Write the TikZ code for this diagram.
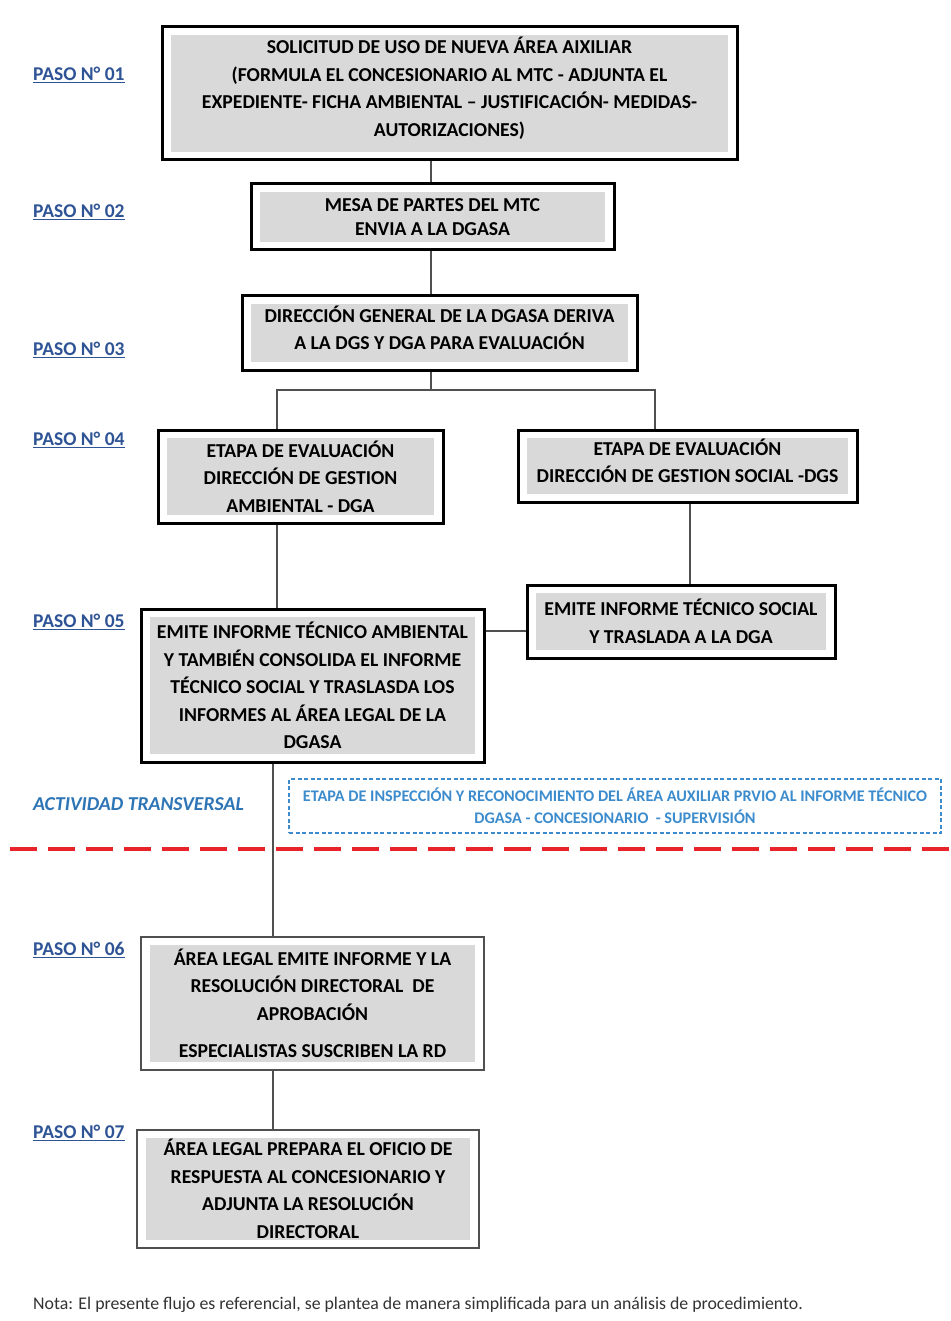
\documentclass[tikz,border=0pt]{standalone}
\usepackage{fontspec}
\setmainfont{Carlito}
\usetikzlibrary{calc}
\definecolor{boxgray}{RGB}{217,217,217}
\definecolor{pasoblue}{RGB}{47,84,150}
\definecolor{transblue}{RGB}{46,117,182}
\definecolor{lightblue}{RGB}{60,140,205}
\definecolor{linegray}{RGB}{80,80,80}
\definecolor{dashred}{RGB}{232,35,42}
\newcommand{\uptext}[2]{\raisebox{0pt}[0pt][0pt]{\parbox{#1}{\centering #2}}}
\tikzset{
  box/.style={draw=black, line width=3pt, fill=white, inner sep=0pt, align=center,
    font=\bfseries\fontsize{19.7}{27.5}\selectfont,
    path picture={\fill[boxgray] ([shift={(9pt,8pt)}]path picture bounding box.south west) rectangle ([shift={(-9pt,-8pt)}]path picture bounding box.north east);}},
  thinbox/.style={box, draw=linegray, line width=2pt},
  paso/.style={anchor=west, inner sep=0pt, text=pasoblue, font=\bfseries\fontsize{19.5}{22}\selectfont},
  conn/.style={draw=linegray, line width=1.2pt},
}
\begin{document}
\begin{tikzpicture}[x=1pt,y=-1pt]
\useasboundingbox[fill=white] (0,0) rectangle (950,1321);

% boxes (outer rectangles in pixel coordinates)
\node[box, minimum width=575, minimum height=133] (b1) at (449.5,93.5)
  {\uptext{555pt}{SOLICITUD DE USO DE NUEVA ÁREA AIXILIAR\\(FORMULA EL CONCESIONARIO AL MTC - ADJUNTA EL\\EXPEDIENTE- FICHA AMBIENTAL – JUSTIFICACIÓN- MEDIDAS-\\AUTORIZACIONES)}};
\node[box, minimum width=363, minimum height=66] (b2) at (432.5,217)
  {MESA DE PARTES DEL MTC\\[-3pt]ENVIA A LA DGASA};
\node[box, minimum width=395, minimum height=74] (b3) at (439.5,333)
  {\uptext{375pt}{DIRECCIÓN GENERAL DE LA DGASA DERIVA\\A LA DGS Y DGA PARA EVALUACIÓN}};
\node[box, minimum width=285, minimum height=93] (b4a) at (300.5,476.5)
  {ETAPA DE EVALUACIÓN\\DIRECCIÓN DE GESTION\\AMBIENTAL - DGA};
\node[box, minimum width=339, minimum height=72] (b4b) at (687.5,466)
  {\uptext{320pt}{ETAPA DE EVALUACIÓN\\DIRECCIÓN DE GESTION SOCIAL -DGS}};
\node[box, minimum width=308, minimum height=73] (b5b) at (681,621.5)
  {EMITE INFORME TÉCNICO SOCIAL\\Y TRASLADA A LA DGA};
\node[box, minimum width=343, minimum height=153] (b5a) at (312.5,685.5)
  {EMITE INFORME TÉCNICO AMBIENTAL\\Y TAMBIÉN CONSOLIDA EL INFORME\\TÉCNICO SOCIAL Y TRASLASDA LOS\\INFORMES AL ÁREA LEGAL DE LA\\DGASA};
\node[thinbox, minimum width=343, minimum height=133] (b6) at (312.5,1003.5)
  {ÁREA LEGAL EMITE INFORME Y LA\\RESOLUCIÓN DIRECTORAL\ \ DE\\APROBACIÓN\\[10pt]ESPECIALISTAS SUSCRIBEN LA RD};
\node[thinbox, minimum width=342, minimum height=118] (b7) at (308,1189)
  {ÁREA LEGAL PREPARA EL OFICIO DE\\RESPUESTA AL CONCESIONARIO Y\\ADJUNTA LA RESOLUCIÓN\\DIRECTORAL};

% paso labels
\node[paso] (p1) at (33,75) {\underline{PASO N° 01}};
\node[paso] (p2) at (33,212) {\underline{PASO N° 02}};
\node[paso] (p3) at (33,350) {\underline{PASO N° 03}};
\node[paso] (p4) at (33,440) {\underline{PASO N° 04}};
\node[paso] (p5) at (33,622) {\underline{PASO N° 05}};
\node[paso] (p6) at (33,950) {\underline{PASO N° 06}};
\node[paso] (p7) at (33,1133) {\underline{PASO N° 07}};

% transversal activity
\node[anchor=west, inner sep=0pt, text=transblue, font=\bfseries\itshape\fontsize{19.7}{22}\selectfont] (ta) at (33,804) {ACTIVIDAD TRANSVERSAL};
\node[draw=lightblue, dashed, dash pattern=on 4pt off 2.5pt, line width=1.2pt, text=lightblue, align=center,
  minimum width=652, minimum height=54, inner sep=0pt, font=\bfseries\fontsize{16.2}{22}\selectfont] (tb) at (615,806)
  {ETAPA DE INSPECCIÓN Y RECONOCIMIENTO DEL ÁREA AUXILIAR PRVIO AL INFORME TÉCNICO\\DGASA - CONCESIONARIO\ \ - SUPERVISIÓN};

% helper coordinates for connector x positions
\coordinate (j) at (431,390);
\coordinate (ja) at (277,390);
\coordinate (jb) at (655,390);
\coordinate (kb) at (690,0);
\coordinate (m) at (273,0);
\coordinate (h) at (0,631);

% connectors
\draw[conn] (j |- b1.south) -- (j |- b2.north);
\draw[conn] (j |- b2.south) -- (j |- b3.north);
\draw[conn] (j |- b3.south) -- (j);
\draw[conn] (ja |- b4a.north) -- (ja) -- (jb) -- (jb |- b4b.north);
\draw[conn] (ja |- b4a.south) -- (ja |- b5a.north);
\draw[conn] (kb |- b4b.south) -- (kb |- b5b.north);
\draw[conn] (b5b.west |- h) -- (b5a.east |- h);
\draw[conn] (m |- b5a.south) -- (m |- b6.north);
\draw[conn] (m |- b6.south) -- (m |- b7.north);

% red dashed separator
\coordinate (rl) at (10,849);
\coordinate (rr) at (950,849);
\draw[dashred, line width=4pt, dash pattern=on 27pt off 11pt] (rl) -- (rr);

% note
\node[anchor=west, inner sep=0pt, text=black!80, font=\fontsize{17.8}{20}\selectfont] (note) at (33,1305)
  {Nota: El presente flujo es referencial, se plantea de manera simplificada para un análisis de procedimiento.};
\end{tikzpicture}
\end{document}
